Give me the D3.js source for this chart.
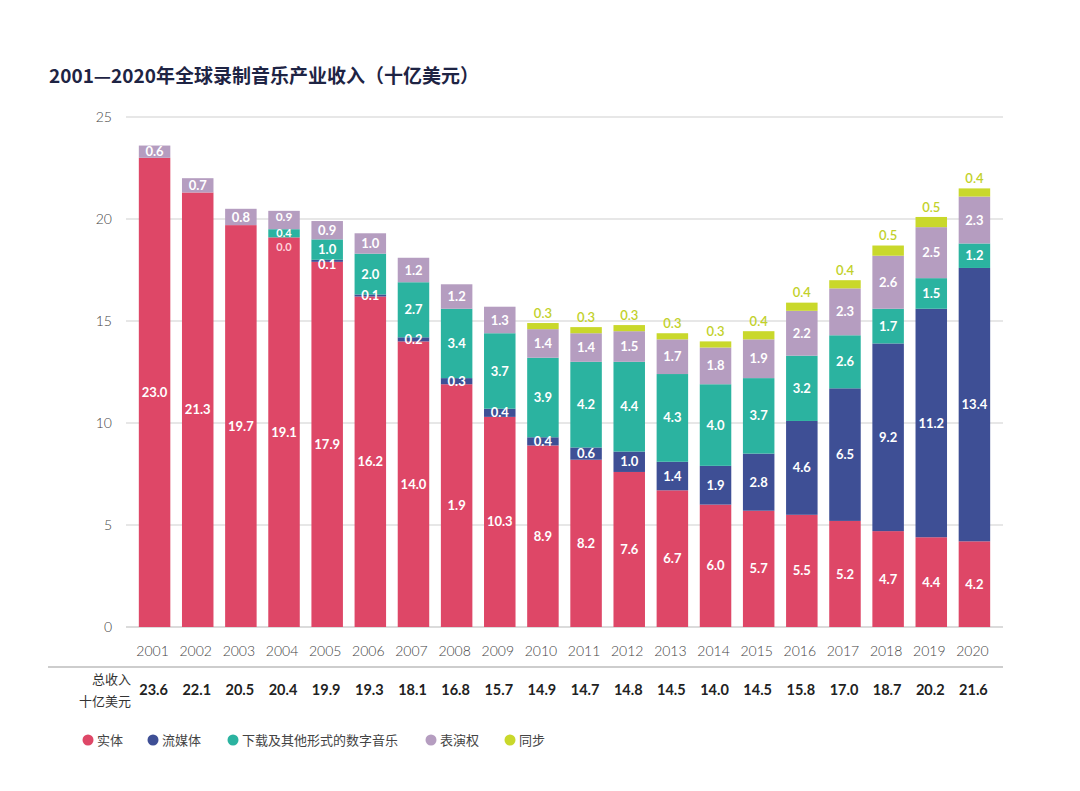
<!DOCTYPE html>
<html><head><meta charset="utf-8">
<script src="https://cdn.jsdelivr.net/npm/d3@7"></script>
<style>
body{margin:0;background:#fff;}
svg{display:block;font-family:Lato,"Noto Sans CJK SC",sans-serif;}
</style></head>
<body>
<svg id="c" width="1080" height="791"></svg>
<script>
const years = ["2001","2002","2003","2004","2005","2006","2007","2008","2009","2010","2011","2012","2013","2014","2015","2016","2017","2018","2019","2020"];
const physical    = [23.0,21.3,19.7,19.1,17.9,16.2,14.0,11.9,10.3,8.9,8.2,7.6,6.7,6.0,5.7,5.5,5.2,4.7,4.4,4.2];
const streaming   = [null,null,null,0.0,0.1,0.1,0.2,0.3,0.4,0.4,0.6,1.0,1.4,1.9,2.8,4.6,6.5,9.2,11.2,13.4];
const downloads   = [null,null,null,0.4,1.0,2.0,2.7,3.4,3.7,3.9,4.2,4.4,4.3,4.0,3.7,3.2,2.6,1.7,1.5,1.2];
const performance = [0.6,0.7,0.8,0.9,0.9,1.0,1.2,1.2,1.3,1.4,1.4,1.5,1.7,1.8,1.9,2.2,2.3,2.6,2.5,2.3];
const sync        = [null,null,null,null,null,null,null,null,null,0.3,0.3,0.3,0.3,0.3,0.4,0.4,0.4,0.5,0.5,0.4];
const totals      = [23.6,22.1,20.5,20.4,19.9,19.3,18.1,16.8,15.7,14.9,14.7,14.8,14.5,14.0,14.5,15.8,17.0,18.7,20.2,21.6];
const seriesNames = ["实体","流媒体","下载及其他形式的数字音乐","表演权","同步"];
const yTicks = [0,5,10,15,20,25];
// label text as printed in the reference (2008 physical is printed "1.9")
const labelOverrides = {"2008|实体":"1.9"};

const colors = ["#de4767","#3e4f95","#2bb3a0","#b59dc0","#c9d82b"];
const seriesData = [physical, streaming, downloads, performance, sync];

const svg = d3.select("#c");
const x = d3.scaleBand().domain(years).range([133, 996]).paddingInner(0.27).paddingOuter(0.135);
const y = d3.scaleLinear().domain([0,25]).range([627,117]);

// title
svg.append("text").attr("x",49).attr("y",83).attr("font-size",19).attr("font-weight",700)
  .attr("fill","#1e2444").attr("font-family","'Noto Sans CJK SC',Lato,sans-serif")
  .text("2001—2020年全球录制音乐产业收入（十亿美元）");

// grid
const grid = svg.append("g");
grid.selectAll("line").data(yTicks).join("line")
  .attr("x1",126).attr("x2",1003).attr("y1",d=>y(d)).attr("y2",d=>y(d))
  .attr("stroke",d=>d===0?"#b8b8b8":"#cfcfcf").attr("stroke-width",1.2);
grid.selectAll("text").data(yTicks).join("text")
  .attr("x",112).attr("y",d=>y(d)).attr("dy","0.35em").attr("text-anchor","end")
  .attr("font-size",14).attr("font-weight",300).attr("fill","#444").text(d=>d);

// stack
const table = years.map((yr,i)=>{
  const o={year:yr};
  seriesNames.forEach((s,k)=>{o[s]=seriesData[k][i]||0;});
  return o;
});
const stack = d3.stack().keys(seriesNames)(table);

const bars = svg.append("g");
stack.forEach((layer,k)=>{
  bars.append("g").attr("fill",colors[k]).selectAll("rect").data(layer).join("rect")
    .attr("x",d=>x(d.data.year)).attr("width",x.bandwidth())
    .attr("y",d=>y(d[1])).attr("height",d=>Math.max(0,y(d[0])-y(d[1])));
});

// labels
const lab = svg.append("g").attr("font-weight",700).attr("font-size",13).attr("text-anchor","middle");
stack.forEach((layer,k)=>{
  layer.forEach((d,i)=>{
    const v = seriesData[k][i];
    if(v===null || v===undefined) return;
    const key = d.data.year+"|"+seriesNames[k];
    const txt = labelOverrides[key] || v.toFixed(1);
    const cx = x(d.data.year)+x.bandwidth()/2;
    if(k===4){
      lab.append("text").attr("x",cx).attr("y",y(d[1])-10).attr("dy","0.35em")
        .attr("fill","#c2d12a").attr("font-weight",600).text(txt);
    } else {
      const h = y(d[0])-y(d[1]);
      let cy = (y(d[0])+y(d[1]))/2;
      if(v<0.05) cy += 10; else if(v<0.15 && i===4) cy += 4;
      if(i===3 && k===3) cy -= 3;
      lab.append("text").attr("x",cx).attr("y",cy).attr("dy","0.35em")
        .attr("font-size", (i===3 && h<12) ? 11 : (i===3 && k===3 ? 12 : 13))
        .attr("fill", v<0.05 ? "#ffd3dc" : "#fff").text(txt);
    }
  });
});

// year axis labels
svg.append("g").selectAll("text").data(years).join("text")
  .attr("x",d=>x(d)+x.bandwidth()/2-2).attr("y",651).attr("dy","0.35em")
  .attr("text-anchor","middle").attr("font-size",14).attr("font-weight",300).attr("fill","#444").text(d=>d);

// separator
svg.append("line").attr("x1",48).attr("x2",1003).attr("y1",667).attr("y2",667)
  .attr("stroke","#bdbdbd").attr("stroke-width",1.5);

// totals row
svg.append("text").attr("x",131).attr("y",679).attr("dy","0.35em").attr("text-anchor","end")
  .attr("font-size",13).attr("fill","#333").attr("font-family","'Noto Sans CJK SC',sans-serif").text("总收入");
svg.append("text").attr("x",131).attr("y",701).attr("dy","0.35em").attr("text-anchor","end")
  .attr("font-size",13).attr("fill","#333").attr("font-family","'Noto Sans CJK SC',sans-serif").text("十亿美元");
svg.append("g").selectAll("text").data(totals).join("text")
  .attr("x",(d,i)=>x(years[i])+x.bandwidth()/2-1).attr("y",690).attr("dy","0.35em")
  .attr("text-anchor","middle").attr("font-size",14.5).attr("font-weight",700).attr("fill","#222")
  .text(d=>d.toFixed(1));

// legend
const legendX = [88,153,233,431,510];
const lg = svg.append("g");
seriesNames.forEach((s,k)=>{
  lg.append("circle").attr("cx",legendX[k]).attr("cy",740).attr("r",5.5).attr("fill",colors[k]);
  lg.append("text").attr("x",legendX[k]+9).attr("y",740).attr("dy","0.35em")
    .attr("font-size",13).attr("fill","#444").attr("font-family","'Noto Sans CJK SC',sans-serif").text(s);
});
</script>
</body></html>
